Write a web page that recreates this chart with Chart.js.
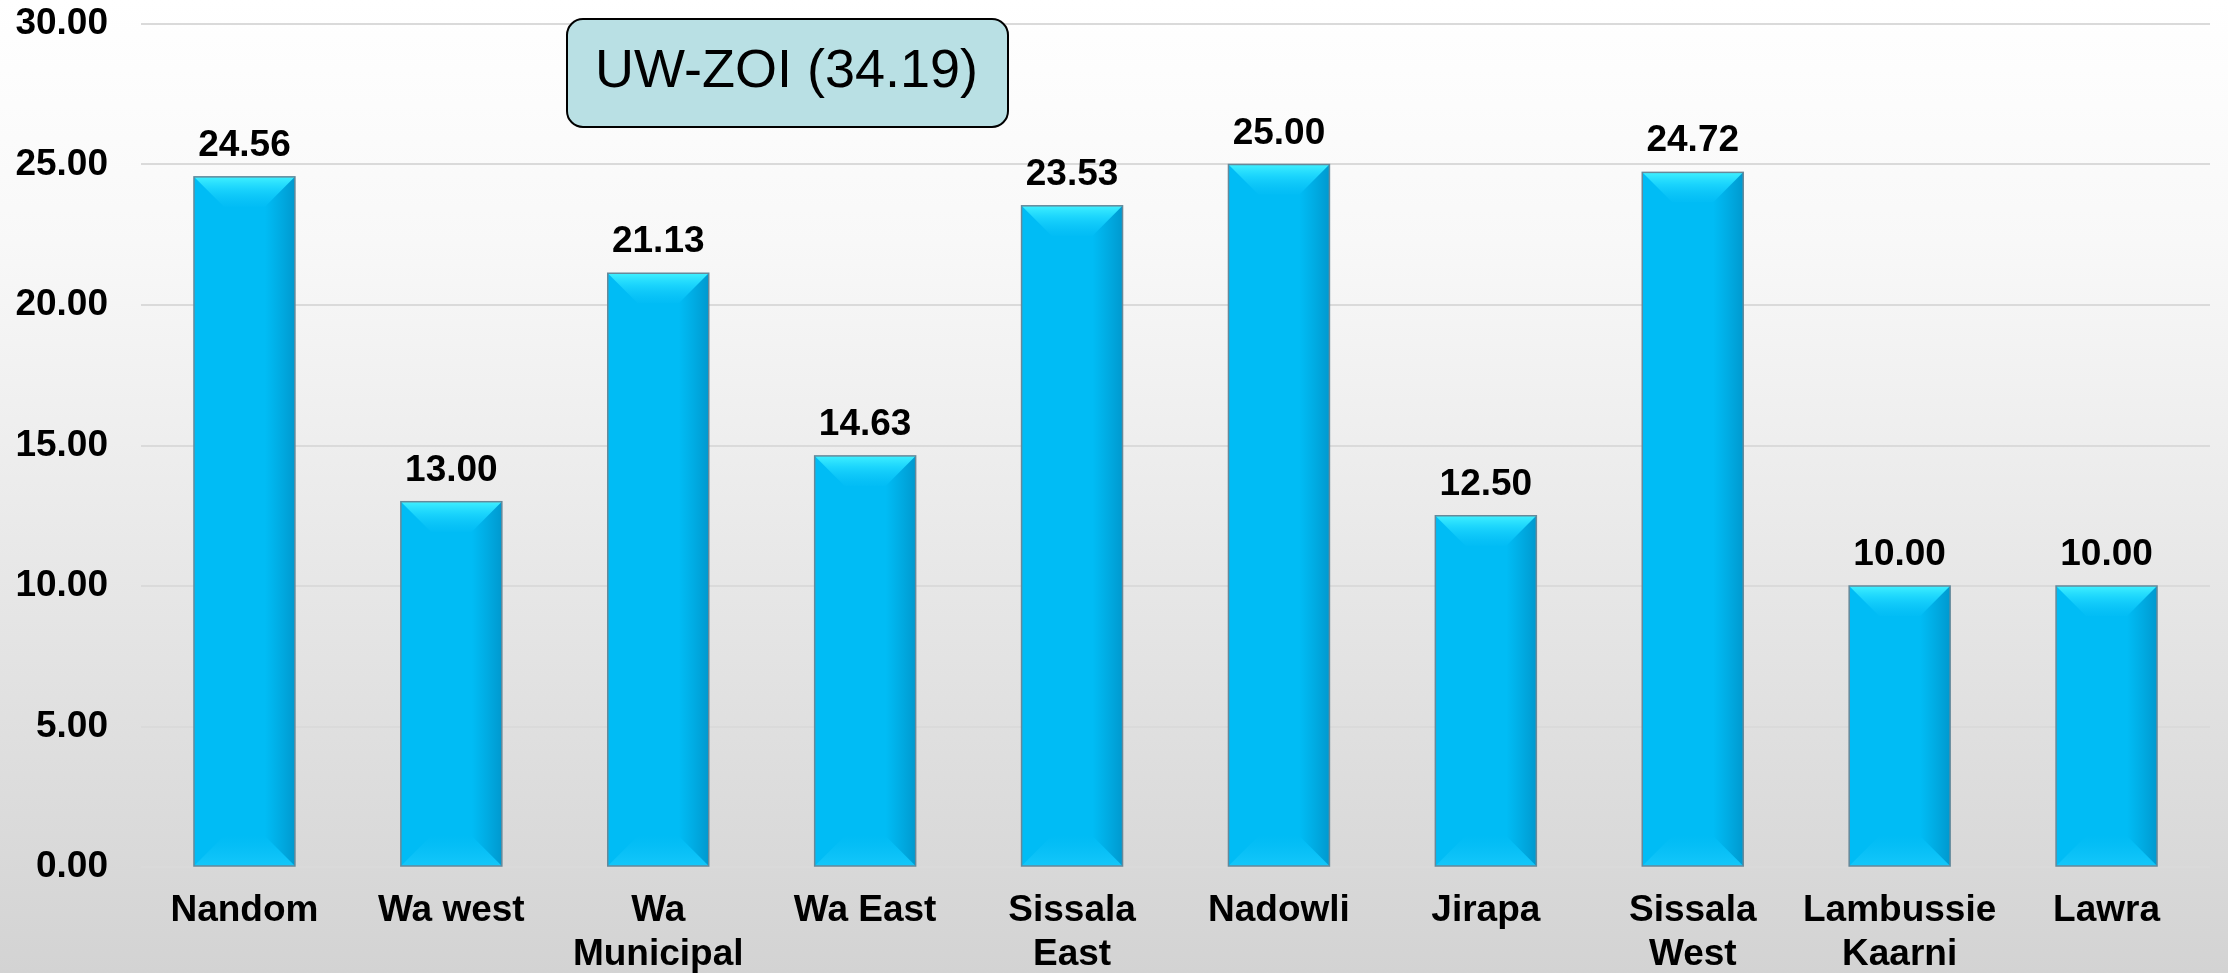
<!DOCTYPE html>
<html>
<head>
<meta charset="utf-8">
<script src="https://cdn.jsdelivr.net/npm/chart.js@4"></script>
<style>
  html, body { margin: 0; padding: 0; background: #fff; }
  #wrap { width: 2228px; height: 973px; position: relative; }
</style>
</head>
<body>
<div id="wrap"><canvas id="chart" width="2228" height="973"></canvas></div>
<script>
// ======= Data =======
const districts = [
  "Nandom", "Wa west", ["Wa", "Municipal"], "Wa East", ["Sissala", "East"],
  "Nadowli", "Jirapa", ["Sissala", "West"], ["Lambussie", "Kaarni"], "Lawra"
];
const scores = [24.56, 13.00, 21.13, 14.63, 23.53, 25.00, 12.50, 24.72, 10.00, 10.00];
const yTicks = [0, 5, 10, 15, 20, 25, 30];
const regionNote = "UW-ZOI (34.19)";

const FONT = '"Liberation Sans", Arial, sans-serif';

// ======= Background gradient =======
const backgroundPlugin = {
  id: "bg",
  beforeDraw(chart) {
    const { ctx, width, height } = chart;
    const g = ctx.createLinearGradient(0, 0, 0, height);
    g.addColorStop(0, "#ffffff");
    g.addColorStop(0.25, "#f8f8f8");
    g.addColorStop(1, "#d3d3d3");
    ctx.save();
    ctx.fillStyle = g;
    ctx.fillRect(0, 0, width, height);
    ctx.restore();
  }
};

// ======= Bevel on each bar =======
const bevelPlugin = {
  id: "bevel",
  afterDatasetsDraw(chart) {
    const { ctx } = chart;
    chart.getDatasetMeta(0).data.forEach(bar => {
      const l = bar.x - bar.width / 2, r = bar.x + bar.width / 2;
      const t = bar.y, b = bar.base;
      const d = Math.min(30, (b - t) / 2);
      ctx.save();
      // top bevel
      let g = ctx.createLinearGradient(0, t, 0, t + d);
      g.addColorStop(0, "#40f0ff");
      g.addColorStop(0.4, "rgba(35,220,255,0.75)");
      g.addColorStop(1, "rgba(20,200,250,0.1)");
      ctx.fillStyle = g;
      ctx.beginPath();
      ctx.moveTo(l, t); ctx.lineTo(r, t); ctx.lineTo(r - d, t + d); ctx.lineTo(l + d, t + d);
      ctx.closePath(); ctx.fill();
      // right side shade
      g = ctx.createLinearGradient(r - d, 0, r, 0);
      g.addColorStop(0, "rgba(0,120,170,0)");
      g.addColorStop(1, "rgba(0,110,160,0.45)");
      ctx.fillStyle = g;
      ctx.beginPath();
      ctx.moveTo(r, t); ctx.lineTo(r, b); ctx.lineTo(r - d, b - d); ctx.lineTo(r - d, t + d);
      ctx.closePath(); ctx.fill();
      // bottom bevel
      g = ctx.createLinearGradient(0, b - d, 0, b);
      g.addColorStop(0, "rgba(30,200,250,0)");
      g.addColorStop(1, "rgba(40,210,255,0.5)");
      ctx.fillStyle = g;
      ctx.beginPath();
      ctx.moveTo(l, b); ctx.lineTo(r, b); ctx.lineTo(r - d, b - d); ctx.lineTo(l + d, b - d);
      ctx.closePath(); ctx.fill();
      // outline
      ctx.strokeStyle = "#66899a";
      ctx.lineWidth = 1.5;
      ctx.strokeRect(l, t, r - l, b - t);
      ctx.restore();
    });
  }
};

// ======= Value labels + note box =======
const labelPlugin = {
  id: "labels",
  afterDraw(chart) {
    const { ctx, chartArea } = chart;
    ctx.save();
    ctx.fillStyle = "#000";
    ctx.font = "bold 37px " + FONT;
    ctx.textAlign = "center";
    ctx.textBaseline = "alphabetic";
    chart.getDatasetMeta(0).data.forEach((bar, i) => {
      ctx.fillText(scores[i].toFixed(2), bar.x, bar.y - 21);
    });

    // note box
    const bx = chartArea.left + 426, by = 19, bw = 441, bh = 108, rad = 16;
    ctx.beginPath();
    ctx.roundRect(bx, by, bw, bh, rad);
    ctx.fillStyle = "#b9e0e4";
    ctx.fill();
    ctx.lineWidth = 2;
    ctx.strokeStyle = "#000";
    ctx.stroke();
    ctx.fillStyle = "#000";
    ctx.font = "54px " + FONT;
    ctx.textAlign = "left";
    ctx.fillText(regionNote, bx + 28, by + 68);
    ctx.restore();
  }
};

// ======= Chart =======
const ctx = document.getElementById("chart").getContext("2d");
const chart = new Chart(ctx, {
  type: "bar",
  data: {
    labels: districts,
    datasets: [{
      data: scores,
      backgroundColor: (c) => {
        const a = c.chart.chartArea;
        const el = c.element;
        if (!a || !el || el.x === undefined) return "#00bcf5";
        const l = el.x - el.width / 2, r = el.x + el.width / 2;
        const g = c.chart.ctx.createLinearGradient(l, 0, r, 0);
        g.addColorStop(0, "#12c6fb");
        g.addColorStop(0.5, "#00bcf6");
        g.addColorStop(0.85, "#00abe5");
        g.addColorStop(1, "#0090c2");
        return g;
      },
      borderWidth: 0,
      categoryPercentage: 1,
      barPercentage: 0.488
    }]
  },
  options: {
    responsive: false,
    animation: false,
    layout: { padding: { left: 16, right: 18, top: 24, bottom: 0 } },
    plugins: { legend: { display: false }, tooltip: { enabled: false } },
    scales: {
      x: {
        grid: { display: false, drawTicks: false },
        border: { display: false },
        ticks: {
          color: "#000",
          font: { family: FONT, size: 37, weight: "bold", lineHeight: 1.19 },
          padding: 22,
          maxRotation: 0,
          autoSkip: false
        },
        afterFit: (s) => { s.height = 106; s.paddingLeft = 0; s.paddingRight = 0; }
      },
      y: {
        min: yTicks[0],
        max: yTicks[yTicks.length - 1],
        afterBuildTicks: (axis) => { axis.ticks = yTicks.map(v => ({ value: v })); },
        grid: { color: "#dadada", lineWidth: 2, drawTicks: false },
        border: { display: false },
        ticks: {
          color: "#000",
          font: { family: FONT, size: 37, weight: "bold" },
          padding: 33,
          callback: (v) => Number(v).toFixed(2)
        },
        afterFit: (s) => { s.width = 125; s.paddingTop = 0; s.paddingBottom = 0; }
      }
    }
  },
  plugins: [backgroundPlugin, bevelPlugin, labelPlugin]
});
</script>
</body>
</html>
